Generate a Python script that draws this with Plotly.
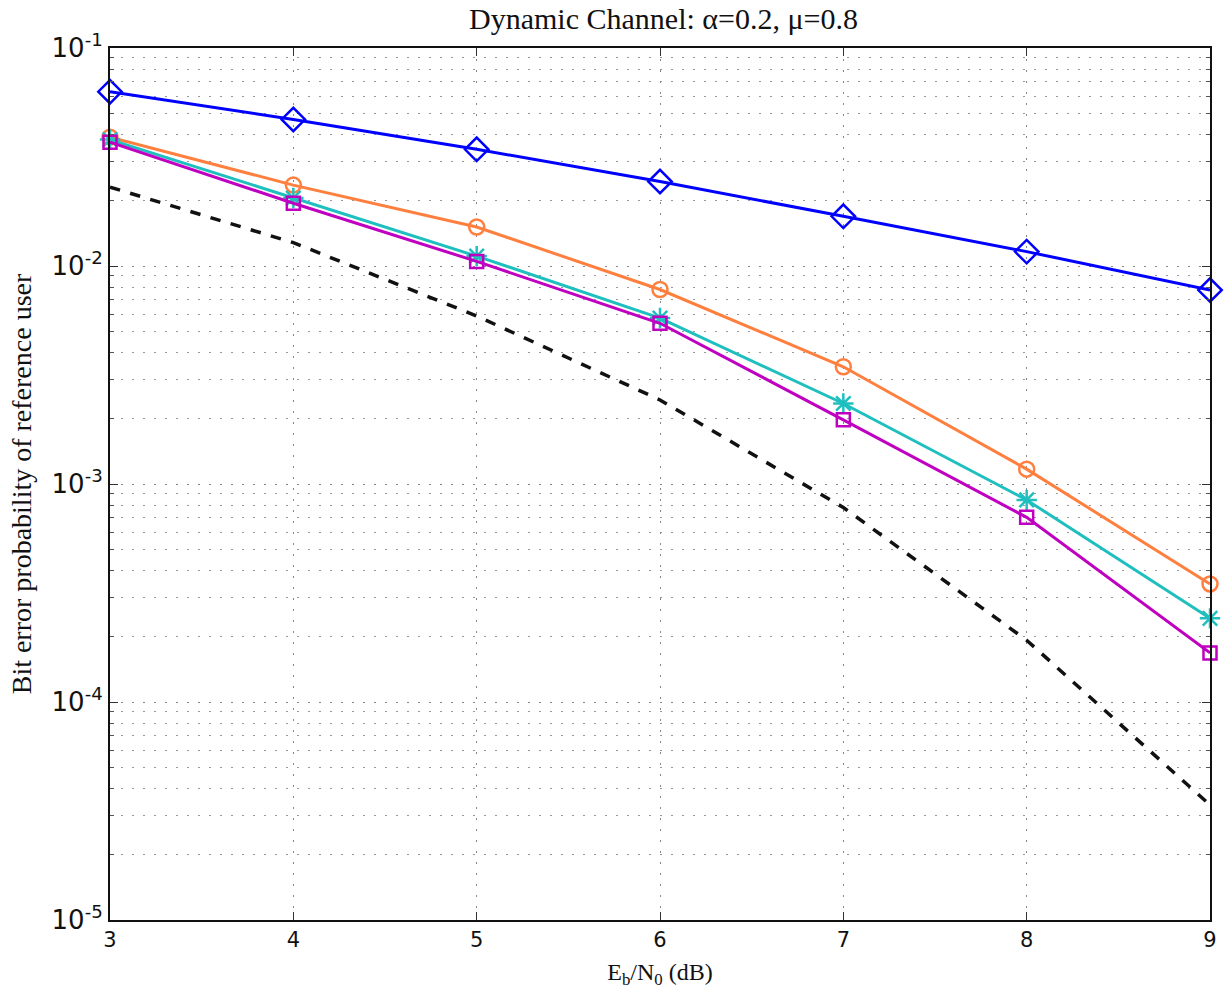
import plotly.graph_objects as go

ebn0_db = [3, 4, 5, 6, 7, 8, 9]

ber_diamond = [0.063, 0.047, 0.0343, 0.0244, 0.0169, 0.01164, 0.00776]
ber_circle = [0.039, 0.0235, 0.0151, 0.0078, 0.00345, 0.00117, 0.000348]
ber_star = [0.038, 0.0205, 0.0111, 0.00577, 0.00234, 0.000845, 0.000242]
ber_square = [0.037, 0.0194, 0.0105, 0.00546, 0.00197, 0.000703, 0.000168]
ber_bound = [0.023, 0.0128, 0.0059, 0.00243, 0.00078, 0.000192, 3.37e-5]

y_tickvals = [1e-5, 1e-4, 1e-3, 1e-2, 1e-1]
y_ticktext = ["10<sup>-5</sup>", "10<sup>-4</sup>", "10<sup>-3</sup>",
              "10<sup>-2</sup>", "10<sup>-1</sup>"]

fig = go.Figure()

fig.add_trace(go.Scatter(
    x=ebn0_db, y=ber_bound, mode="lines",
    line=dict(color="#111111", width=3.5, dash="dash"), showlegend=False))

series = [
    (ber_diamond, "#0000FF", "diamond-open", 18),
    (ber_circle, "#FF7F3F", "circle-open", 15),
    (ber_star, "#1FBFBF", "asterisk-open", 17),
    (ber_square, "#C000C0", "square-open", 13),
]
for ys, color, symbol, size in series:
    fig.add_trace(go.Scatter(
        x=ebn0_db, y=ys, mode="lines+markers",
        line=dict(color=color, width=3),
        marker=dict(symbol=symbol, size=size, color=color,
                    line=dict(color=color, width=2.5)),
        showlegend=False, cliponaxis=False))

grid_style = dict(showgrid=True, gridcolor="#888888", griddash="2px,9px",
                  gridwidth=1)

fig.update_layout(
    width=1227, height=995,
    margin=dict(l=110, r=10, t=48, b=75),
    paper_bgcolor="white", plot_bgcolor="white",
    font=dict(family="Liberation Serif", size=20, color="#111111"),
    title=dict(text="Dynamic Channel: \u03b1=0.2, \u03bc=0.8",
               x=(110 + 1217) / 2 / 1227, xanchor="center",
               y=1 - 18 / 995, yanchor="middle",
               font=dict(family="Liberation Serif", size=30)),
)

fig.update_xaxes(
    range=[3, 9], tickvals=ebn0_db, ticks="inside", ticklen=8,
    tickcolor="#333333", showline=True, linecolor="#111111", linewidth=2,
    mirror="ticks", zeroline=False, **grid_style,
    tickfont=dict(family="DejaVu Sans", size=21),
    title=dict(text="E<sub>b</sub>/N<sub>0</sub> (dB)", standoff=12,
               font=dict(family="Liberation Serif", size=24)),
)

fig.update_yaxes(
    type="log", range=[-5, -1], tickvals=y_tickvals, ticktext=y_ticktext,
    ticks="inside", ticklen=8, tickcolor="#333333",
    showline=True, linecolor="#111111", linewidth=2, mirror="ticks",
    **grid_style,
    minor=dict(dtick="D1", showgrid=True, gridcolor="#999999",
               griddash="2px,9px", gridwidth=1, ticks="inside", ticklen=4,
               tickcolor="#555555"),
    zeroline=False,
    tickfont=dict(family="DejaVu Sans", size=26),
    title=dict(text="Bit error probability of reference user", standoff=12,
               font=dict(family="Liberation Serif", size=28)),
)

fig.write_html("out.html")
